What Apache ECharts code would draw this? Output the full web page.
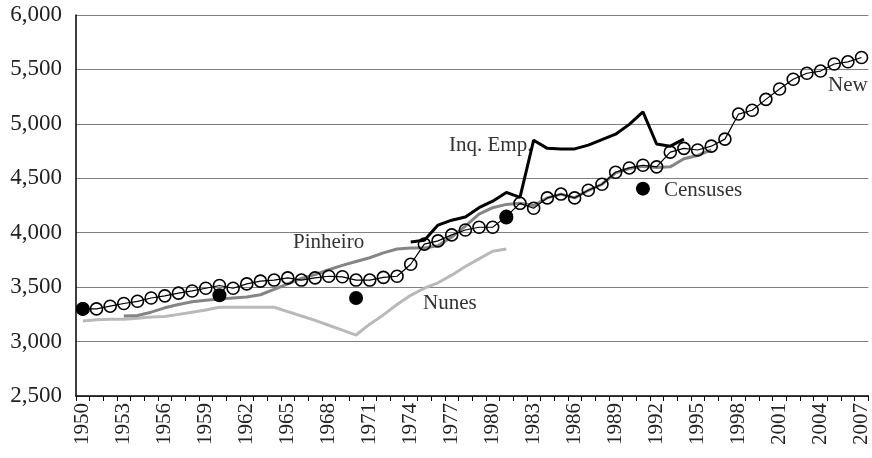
<!DOCTYPE html>
<html>
<head>
<meta charset="utf-8">
<script src="https://cdn.jsdelivr.net/npm/echarts@6/dist/echarts.min.js"></script>
<style>
  html, body { margin: 0; padding: 0; background: #fff; }
  #main { width: 872px; height: 458px; }
</style>
</head>
<body>
<div id="main"></div>
<script>
// categories
var years = ["1950","1951","1952","1953","1954","1955","1956","1957","1958","1959",
  "1960","1961","1962","1963","1964","1965","1966","1967","1968","1969",
  "1970","1971","1972","1973","1974","1975","1976","1977","1978","1979",
  "1980","1981","1982","1983","1984","1985","1986","1987","1988","1989",
  "1990","1991","1992","1993","1994","1995","1996","1997","1998","1999",
  "2000","2001","2002","2003","2004","2005","2006","2007"];

// New series, 1950-2007
var newValues = [3300,3300,3325,3350,3370,3400,3420,3445,3465,3490,
  3515,3490,3530,3555,3565,3585,3565,3585,3600,3595,
  3565,3565,3590,3600,3710,3895,3925,3980,4025,4050,
  4050,4150,4270,4225,4320,4355,4320,4390,4445,4555,
  4595,4620,4605,4740,4775,4760,4795,4860,5090,5125,
  5225,5320,5410,5465,5485,5550,5570,5610];

// Pinheiro, 1953-1996
var pinheiroYears = ["1953","1954","1955","1956","1957","1958","1959","1960","1961","1962",
  "1963","1964","1965","1966","1967","1968","1969","1970","1971","1972",
  "1973","1974","1975","1976","1977","1978","1979","1980","1981","1982",
  "1983","1984","1985","1986","1987","1988","1989","1990","1991","1992",
  "1993","1994","1995","1996"];
var pinheiroValues = [3235,3240,3270,3310,3340,3365,3380,3390,3400,3410,
  3430,3480,3530,3580,3615,3660,3700,3735,3770,3815,
  3850,3860,3860,3880,3960,4060,4170,4230,4260,4270,
  4250,4320,4355,4320,4390,4445,4550,4590,4610,4600,
  4605,4680,4710,4760];

// Nunes, 1950-1981
var nunesYears = years.slice(0, 32);
var nunesValues = [3190,3200,3205,3205,3215,3225,3230,3250,3270,3290,
  3315,3315,3315,3315,3315,3275,3235,3195,3150,3105,
  3060,3160,3245,3340,3425,3490,3540,3610,3690,3760,
  3830,3850];

// Inq. Emp., 1974-1994
var inqYears = years.slice(24, 45);
var inqValues = [3915,3930,4070,4115,4145,4230,4290,4370,4325,4850,
  4775,4770,4770,4805,4855,4905,4995,5110,4815,4795,4860];

// Censuses
var censusYears = ["1950","1960","1970","1981","1991"];
var censusValues = [3300,3425,3400,4140,4405];

var yTicks = [2500, 3000, 3500, 4000, 4500, 5000, 5500, 6000];

function pairs(xs, vs) {
  return vs.map(function (v, i) { return [xs[i], v]; });
}

var serif = "'Liberation Serif', 'DejaVu Serif', serif";

var chart = echarts.init(document.getElementById("main"), null, { renderer: "canvas" });

var option = {
  animation: false,
  backgroundColor: "#fff",
  grid: { left: 76, right: 0, top: 15, bottom: 62 },
  xAxis: {
    type: "category",
    data: years,
    boundaryGap: true,
    axisLine: { lineStyle: { color: "#000", width: 1.5 } },
    axisTick: { show: true, interval: 0, length: 5, lineStyle: { color: "#000" } },
    axisLabel: {
      interval: 2,
      rotate: 90,
      margin: 7,
      color: "#222",
      fontFamily: serif,
      fontSize: 21
    },
    splitLine: { show: false }
  },
  yAxis: {
    type: "value",
    min: yTicks[0],
    max: yTicks[yTicks.length - 1],
    interval: 500,
    axisLine: { show: true, lineStyle: { color: "#000", width: 1.5 } },
    axisTick: { show: false },
    axisLabel: {
      margin: 14,
      color: "#222",
      fontFamily: serif,
      fontSize: 23,
      formatter: function (v) { return v.toLocaleString("en-US"); }
    },
    splitLine: { show: true, lineStyle: { color: "#808080", width: 1.2 } }
  },
  series: [
    {
      name: "Nunes",
      type: "line",
      data: pairs(nunesYears, nunesValues),
      symbol: "none",
      lineStyle: { color: "#b9b9b9", width: 3 },
      z: 2
    },
    {
      name: "Pinheiro",
      type: "line",
      data: pairs(pinheiroYears, pinheiroValues),
      symbol: "none",
      lineStyle: { color: "#858585", width: 3 },
      z: 3
    },
    {
      name: "Inq. Emp.",
      type: "line",
      data: pairs(inqYears, inqValues),
      symbol: "none",
      lineStyle: { color: "#000", width: 3 },
      z: 4
    },
    {
      name: "New",
      type: "line",
      data: newValues,
      symbol: "circle",
      symbolSize: 12,
      showAllSymbol: true,
      itemStyle: { color: "rgba(255,255,255,0)", borderColor: "#000", borderWidth: 1.6 },
      lineStyle: { color: "#000", width: 1.2 },
      z: 5
    },
    {
      name: "Censuses",
      type: "scatter",
      data: pairs(censusYears, censusValues),
      symbol: "circle",
      symbolSize: 14,
      itemStyle: { color: "#000", opacity: 1 },
      z: 6
    }
  ],
  graphic: [
    { type: "text", left: 293, top: 232, style: { text: "Pinheiro", font: "21px " + serif, fill: "#333" } },
    { type: "text", left: 423, top: 293, style: { text: "Nunes", font: "21px " + serif, fill: "#333" } },
    { type: "text", left: 449, top: 135, style: { text: "Inq. Emp.", font: "21px " + serif, fill: "#333" }, z: 1 },
    { type: "text", left: 664, top: 180, style: { text: "Censuses", font: "21px " + serif, fill: "#333" } },
    { type: "text", left: 828, top: 75, style: { text: "New", font: "21px " + serif, fill: "#333" } }
  ]
};

chart.setOption(option);
</script>
</body>
</html>
